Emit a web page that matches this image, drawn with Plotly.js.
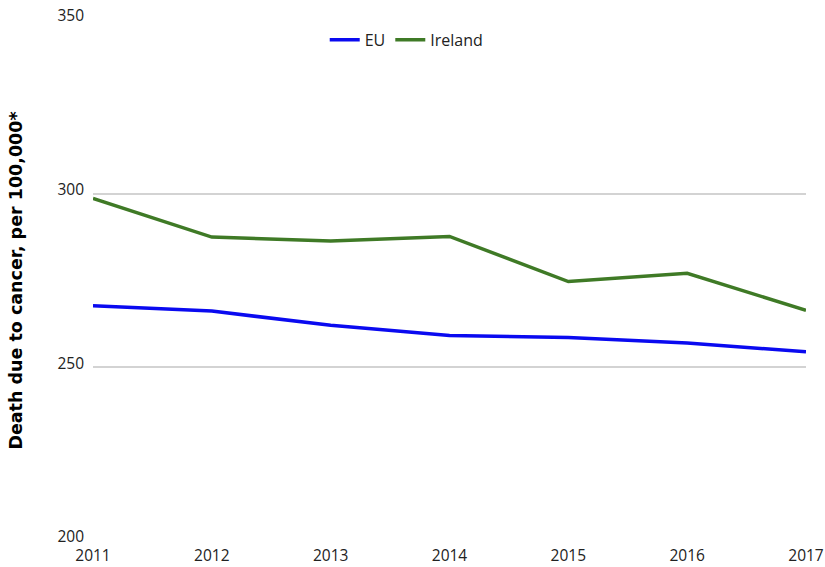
<!DOCTYPE html>
<html><head><meta charset="utf-8">
<script src="https://cdn.plot.ly/plotly-3.0.1.min.js"></script>
<style>body{margin:0;padding:0;background:#fff}#chart{width:825px;height:567px}</style>
</head><body><div id="chart"></div>
<script>
var years = ['2011','2012','2013','2014','2015','2016','2017'];
var euValues = [267.7, 266.2, 262.1, 259.2, 258.6, 257.0, 254.5];
var irelandValues = [298.6, 287.5, 286.4, 287.7, 274.7, 277.1, 266.4];
var tickFont = {family: 'Open Sans, sans-serif', size: 15.5, color: '#222'};
var traces = [
  {x: years, y: euValues, name: 'EU', type: 'scatter', mode: 'lines', line: {color: '#0a0af0', width: 3.5}},
  {x: years, y: irelandValues, name: 'Ireland', type: 'scatter', mode: 'lines', line: {color: '#3f7a26', width: 3.5}}
];
var layout = {
  width: 825, height: 567,
  margin: {l: 93, r: 19, t: 20, b: 26},
  paper_bgcolor: '#fff', plot_bgcolor: '#fff',
  showlegend: true,
  legend: {orientation: 'h', x: 0.325, xanchor: 'left', y: 0.962, yanchor: 'middle', font: {family: 'Open Sans, sans-serif', size: 16, color: '#222'}, itemwidth: 30, bgcolor: 'rgba(0,0,0,0)'},
  xaxis: {type: 'category', range: [0, 6], showgrid: false, zeroline: false, showline: false, ticks: '', tickfont: tickFont, ticklabelstandoff: 3, automargin: false},
  yaxis: {range: [200, 350], tickvals: [200, 250, 300, 350], showgrid: true, gridcolor: '#d3d3d3', gridwidth: 1.5, zeroline: false, showline: false, ticks: '', tickfont: tickFont, ticklabelstandoff: 8, ticklabelshift: -4, automargin: false,
    title: {text: 'Death due to cancer, per 100,000*', font: {family: 'DejaVu Sans, Verdana, sans-serif', size: 17.5, color: '#000', weight: 'bold'}, standoff: 30}}
};
Plotly.newPlot('chart', traces, layout, {displayModeBar: false});
</script></body></html>
